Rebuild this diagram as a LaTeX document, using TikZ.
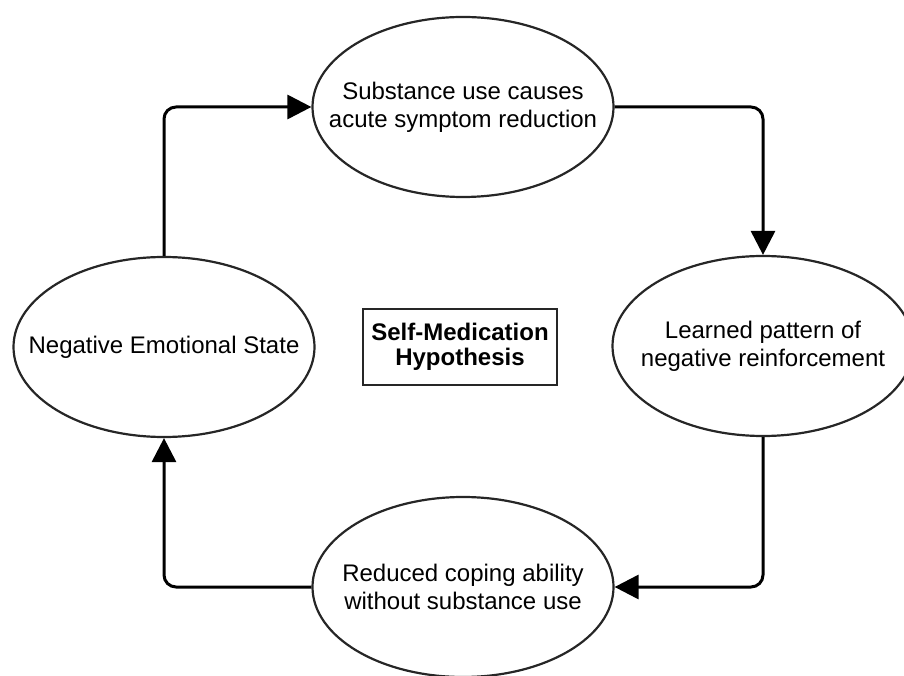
\documentclass[tikz,border=0pt]{standalone}
\usepackage{fontspec}
\setmainfont{Liberation Sans}
\usetikzlibrary{arrows.meta,shapes.geometric}
\begin{document}
\begin{tikzpicture}[x=1pt,y=1pt,
  ell/.style={draw=black!85,line width=2.2pt,ellipse,minimum width=301pt,minimum height=180pt,inner xsep=-60pt,inner ysep=0pt,align=center,font=\fontsize{24}{28}\selectfont},
  hyp/.style={draw=black!85,line width=2.6pt,minimum width=194pt,minimum height=76pt,inner sep=0pt,align=center,font=\fontsize{24}{25}\selectfont\bfseries},
  arr/.style={line width=3pt,rounded corners=12pt,-{Triangle[length=24pt,width=24pt]}}]
\useasboundingbox (0,0) rectangle (904,675);
\node[ell] (T) at (463,568) {Substance use causes\\acute symptom reduction};
\node[ell] (L) at (164,328) {Negative Emotional State};
\node[ell] (R) at (763,329) {Learned pattern of\\negative reinforcement};
\node[ell] (B) at (463,88) {Reduced coping ability\\without substance use};
\node[hyp] (H) at (460,328) {Self-Medication\\Hypothesis};
\draw[arr] (L.north) |- (T.west);
\draw[arr] (T.east) -| (R.north);
\draw[arr] (R.south) |- (B.east);
\draw[arr] (B.west) -| (L.south);
\end{tikzpicture}
\end{document}
